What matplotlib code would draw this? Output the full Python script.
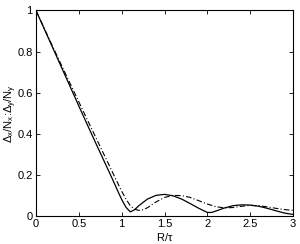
import numpy as np
import matplotlib
matplotlib.use("Agg")
from matplotlib import pyplot as plt

plt.rcParams['font.family'] = ['Liberation Sans', 'DejaVu Sans']
plt.rcParams['mathtext.fontset'] = 'custom'
plt.rcParams['mathtext.rm'] = 'Liberation Sans'
plt.rcParams['mathtext.it'] = 'Liberation Sans'

# values
r_solid = [0, 0.1, 0.2, 0.3, 0.4, 0.5, 0.6, 0.7, 0.8, 0.85, 0.9, 0.95, 1.0, 1.05,
           1.1, 1.15, 1.2, 1.3, 1.4, 1.5, 1.6, 1.7, 1.8, 1.9, 2.0, 2.05, 2.1,
           2.2, 2.3, 2.4, 2.5, 2.6, 2.7, 2.8, 2.9, 3.0]
v_solid = [1.0, 0.907, 0.814, 0.721, 0.628, 0.535, 0.443, 0.352, 0.262, 0.217, 0.172,
           0.125, 0.08, 0.042, 0.02, 0.03, 0.05, 0.082, 0.1, 0.105, 0.098, 0.082,
           0.06, 0.037, 0.017, 0.017, 0.024, 0.039, 0.05, 0.054, 0.053, 0.047,
           0.037, 0.025, 0.014, 0.007]

r_dash = [0, 0.1, 0.2, 0.3, 0.4, 0.5, 0.6, 0.7, 0.8, 0.85, 0.9, 0.95, 1.0, 1.05,
          1.1, 1.15, 1.2, 1.25, 1.3, 1.4, 1.5, 1.6, 1.7, 1.8, 1.9, 2.0, 2.1, 2.2,
          2.3, 2.4, 2.5, 2.6, 2.7, 2.8, 2.9, 3.0]
v_dash = [1.0, 0.91, 0.82, 0.731, 0.643, 0.555, 0.467, 0.38, 0.293, 0.25, 0.206, 0.163,
          0.12, 0.082, 0.05, 0.033, 0.027, 0.03, 0.04, 0.068, 0.09, 0.1, 0.099, 0.09,
          0.074, 0.058, 0.045, 0.039, 0.041, 0.047, 0.051, 0.05, 0.044, 0.037,
          0.031, 0.027]

xticks = [0, 0.5, 1, 1.5, 2, 2.5, 3]
yticks = [0, 0.2, 0.4, 0.6, 0.8, 1]

fig = plt.figure(figsize=(3.0, 2.44), dpi=100)
ax = fig.add_axes([0.12, 0.115, 0.857, 0.842])
ax.plot(r_solid, v_solid, c='black', lw=0.9)
ax.plot(r_dash, v_dash, c='black', lw=0.8, ls='-.', dashes=(5, 2, 1, 2))

ax.set_xlim(0, 3)
ax.set_ylim(0, 1)
ax.set_xticks(xticks)
ax.set_xticklabels(['0', '0.5', '1', '1.5', '2', '2.5', '3'])
ax.set_yticks(yticks)
ax.set_yticklabels(['0', '0.2', '0.4', '0.6', '0.8', '1'])
ax.tick_params(direction='in', length=3, width=0.6, labelsize=8,
               top=True, right=True, pad=2.5)
for s in ax.spines.values():
	s.set_linewidth(0.8)
ax.set_xlabel(r'R/$\tau$', fontsize=8, labelpad=1)
ax.set_ylabel(r'$\Delta_x/N_x$:$\Delta_y/N_y$', fontsize=8, labelpad=-1)

fig.savefig('out.png', dpi=100)
